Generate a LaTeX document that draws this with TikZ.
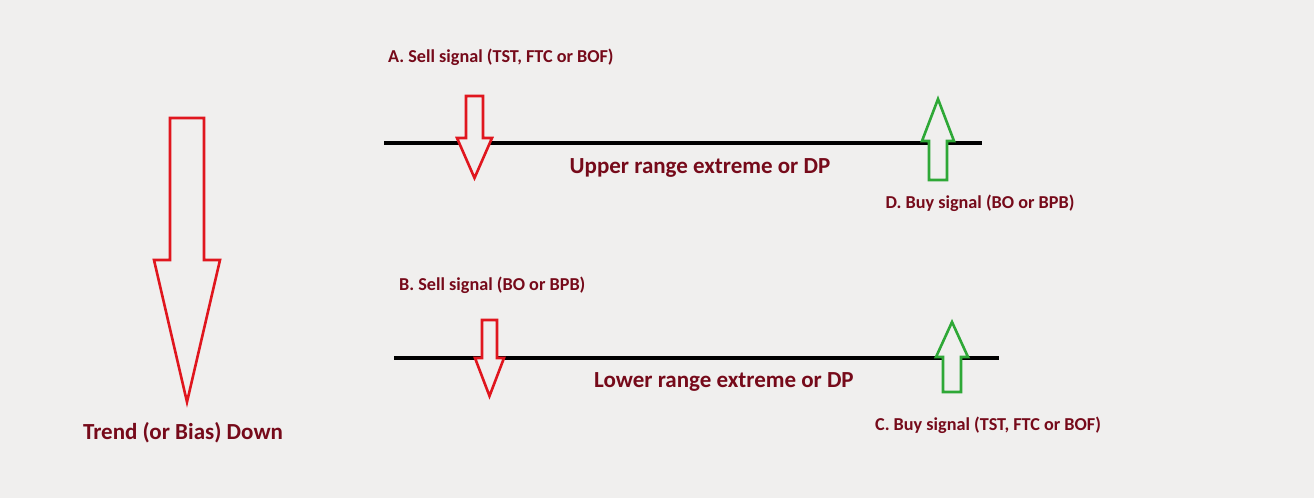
\documentclass[tikz,border=0pt]{standalone}
\usepackage{fontspec}
\setmainfont{Carlito}
\usepackage{xcolor}
\usetikzlibrary{positioning}
\definecolor{bgcol}{HTML}{F0EFEE}
\definecolor{labred}{HTML}{760A1A}
\definecolor{sellred}{HTML}{E0161E}
\definecolor{buygreen}{HTML}{2EA836}

\begin{document}
\begin{tikzpicture}[x=1pt, y=-1pt, font=\bfseries,
    lab/.style={text=labred, font=\fontsize{18.2}{21}\selectfont\bfseries, inner sep=0pt},
    rangelab/.style={text=labred, font=\fontsize{23}{27}\selectfont\bfseries, inner sep=0pt},
    rangeline/.style={line width=4pt, black},
    sellarrow/.style={draw=sellred, fill=bgcol, line width=2.6pt, line join=miter},
    buyarrow/.style={draw=buygreen, fill=bgcol, line width=2.6pt, line join=miter}
]
  \fill[bgcol] (0,0) rectangle (1314,498);
  \useasboundingbox (0,0) rectangle (1314,498);

  % Trend
  \draw[sellarrow] (170,118) -- (204,118) -- (204,260) -- (220,260) -- (187,402)
    -- (154,260) -- (170,260) -- cycle;
  \node[rangelab] (trend) at (183,433) {Trend (or Bias) Down};

  % Upper range
  \coordinate (upl) at (384,143);
  \coordinate (upr) at (982,143);
  \draw[rangeline] (upl) -- (upr);
  \node[rangelab] (upper) at (700,168) {Upper range extreme or DP};
  \node[lab, anchor=west] (sellA) at (388,57) {A. Sell signal (TST, FTC or BOF)};
  \draw[sellarrow] (466,96) -- (483,96) -- (483,138) -- (492,138) -- (474.5,178)
    -- (457,138) -- (466,138) -- cycle;
  \draw[buyarrow] (938,99) -- (954,141) -- (947,141) -- (947,180) -- (929,180)
    -- (929,141) -- (922,141) -- cycle;
  \node[lab] (buyD) at (980,203) {D. Buy signal (BO or BPB)};

  % Lower range
  \coordinate (lowl) at (394,358);
  \coordinate (lowr) at (999,358);
  \draw[rangeline] (lowl) -- (lowr);
  \node[rangelab] (lower) at (724,382) {Lower range extreme or DP};
  \node[lab, anchor=west] (sellB) at (399,285) {B. Sell signal (BO or BPB)};
  \draw[sellarrow] (482,320) -- (497,320) -- (497,358) -- (504,358) -- (489.5,396)
    -- (475,358) -- (482,358) -- cycle;
  \draw[buyarrow] (952,322) -- (968,357) -- (961,357) -- (961,392) -- (943,392)
    -- (943,357) -- (936,357) -- cycle;
  \node[lab] (buyC) at (988,425) {C. Buy signal (TST, FTC or BOF)};
\end{tikzpicture}
\end{document}
